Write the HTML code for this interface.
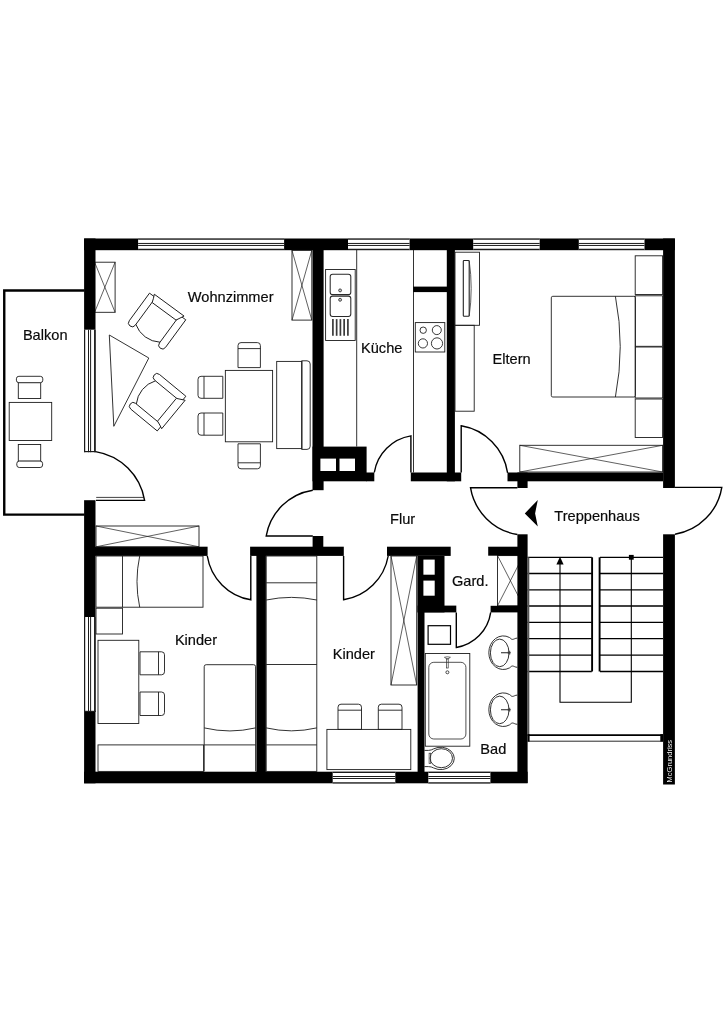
<!DOCTYPE html>
<html lang="de">
<head>
<meta charset="utf-8">
<title>Grundriss</title>
<style>
html,body{margin:0;padding:0;background:#fff;}
body{width:724px;height:1024px;overflow:hidden;}
svg{display:block;will-change:transform;}
text{font-family:"Liberation Sans",sans-serif;fill:#0a0a0a;stroke:#0a0a0a;stroke-width:0.18px;}
</style>
</head>
<body>
<svg width="724" height="1024" viewBox="0 0 724 1024">
<rect x="0" y="0" width="724" height="1024" fill="#fff"/>
<path d="M84.5 290.55L4.25 290.55L4.25 514.6L84.5 514.6" stroke="#000" stroke-width="2.4" fill="none"/>
<rect x="497.5" y="555.6" width="25.8" height="50.2" stroke="#1c1c1c" stroke-width="0.9" fill="none"/>
<path d="M497.5 555.6L523.3 605.8M523.3 555.6L497.5 605.8" stroke="#1c1c1c" stroke-width="0.7" fill="none"/>
<rect x="94.6" y="262.2" width="20.5" height="50.1" stroke="#1c1c1c" stroke-width="0.9" fill="none"/>
<path d="M94.6 262.2L115.1 312.3M115.1 262.2L94.6 312.3" stroke="#1c1c1c" stroke-width="0.7" fill="none"/>
<rect x="84.1" y="238.5" width="590.8" height="11.7" fill="#000"/>
<rect x="84.1" y="238.5" width="11.4" height="213.5" fill="#000"/>
<rect x="84.1" y="500.2" width="11.4" height="283.1" fill="#000"/>
<rect x="84.1" y="771.7" width="443.5" height="11.6" fill="#000"/>
<rect x="663.1" y="238.5" width="11.8" height="249.5" fill="#000"/>
<rect x="663.1" y="534.3" width="11.8" height="250.2" fill="#000"/>
<rect x="138.1" y="238.5" width="146.0" height="11.5" fill="#fff"/>
<line x1="138.1" y1="239.05" x2="284.1" y2="239.05" stroke="#1a1a1a" stroke-width="1.25"/>
<line x1="138.1" y1="243.45" x2="284.1" y2="243.45" stroke="#1a1a1a" stroke-width="1.0"/>
<line x1="138.1" y1="245.45" x2="284.1" y2="245.45" stroke="#1a1a1a" stroke-width="1.0"/>
<line x1="138.1" y1="249.45" x2="284.1" y2="249.45" stroke="#1a1a1a" stroke-width="1.25"/>
<rect x="348" y="238.5" width="61.6" height="11.5" fill="#fff"/>
<line x1="348" y1="239.05" x2="409.6" y2="239.05" stroke="#1a1a1a" stroke-width="1.25"/>
<line x1="348" y1="243.45" x2="409.6" y2="243.45" stroke="#1a1a1a" stroke-width="1.0"/>
<line x1="348" y1="245.45" x2="409.6" y2="245.45" stroke="#1a1a1a" stroke-width="1.0"/>
<line x1="348" y1="249.45" x2="409.6" y2="249.45" stroke="#1a1a1a" stroke-width="1.25"/>
<rect x="473.2" y="238.5" width="66.5" height="11.5" fill="#fff"/>
<line x1="473.2" y1="239.05" x2="539.7" y2="239.05" stroke="#1a1a1a" stroke-width="1.25"/>
<line x1="473.2" y1="243.45" x2="539.7" y2="243.45" stroke="#1a1a1a" stroke-width="1.0"/>
<line x1="473.2" y1="245.45" x2="539.7" y2="245.45" stroke="#1a1a1a" stroke-width="1.0"/>
<line x1="473.2" y1="249.45" x2="539.7" y2="249.45" stroke="#1a1a1a" stroke-width="1.25"/>
<rect x="578.8" y="238.5" width="65.7" height="11.5" fill="#fff"/>
<line x1="578.8" y1="239.05" x2="644.5" y2="239.05" stroke="#1a1a1a" stroke-width="1.25"/>
<line x1="578.8" y1="243.45" x2="644.5" y2="243.45" stroke="#1a1a1a" stroke-width="1.0"/>
<line x1="578.8" y1="245.45" x2="644.5" y2="245.45" stroke="#1a1a1a" stroke-width="1.0"/>
<line x1="578.8" y1="249.45" x2="644.5" y2="249.45" stroke="#1a1a1a" stroke-width="1.25"/>
<rect x="332.7" y="771.7" width="62.6" height="11.6" fill="#fff"/>
<line x1="332.7" y1="772.3" x2="395.3" y2="772.3" stroke="#1a1a1a" stroke-width="1.25"/>
<line x1="332.7" y1="776.5" x2="395.3" y2="776.5" stroke="#1a1a1a" stroke-width="1.0"/>
<line x1="332.7" y1="778.5" x2="395.3" y2="778.5" stroke="#1a1a1a" stroke-width="1.0"/>
<line x1="332.7" y1="782.75" x2="395.3" y2="782.75" stroke="#1a1a1a" stroke-width="1.25"/>
<rect x="428.3" y="771.7" width="62.1" height="11.6" fill="#fff"/>
<line x1="428.3" y1="772.3" x2="490.4" y2="772.3" stroke="#1a1a1a" stroke-width="1.25"/>
<line x1="428.3" y1="776.5" x2="490.4" y2="776.5" stroke="#1a1a1a" stroke-width="1.0"/>
<line x1="428.3" y1="778.5" x2="490.4" y2="778.5" stroke="#1a1a1a" stroke-width="1.0"/>
<line x1="428.3" y1="782.75" x2="490.4" y2="782.75" stroke="#1a1a1a" stroke-width="1.25"/>
<rect x="84.1" y="329.7" width="11.5" height="122.5" fill="#fff"/>
<line x1="84.6" y1="329.7" x2="84.6" y2="452.2" stroke="#1a1a1a" stroke-width="1.25"/>
<line x1="88.5" y1="329.7" x2="88.5" y2="452.2" stroke="#1a1a1a" stroke-width="1.0"/>
<line x1="90.6" y1="329.7" x2="90.6" y2="452.2" stroke="#1a1a1a" stroke-width="1.0"/>
<line x1="94.9" y1="329.7" x2="94.9" y2="452.2" stroke="#1a1a1a" stroke-width="1.7"/>
<line x1="84.1" y1="451.59999999999997" x2="95.6" y2="451.59999999999997" stroke="#1a1a1a" stroke-width="1.2"/>
<rect x="84.1" y="617" width="11.5" height="95" fill="#fff"/>
<line x1="84.6" y1="617" x2="84.6" y2="712" stroke="#1a1a1a" stroke-width="1.25"/>
<line x1="88.5" y1="617" x2="88.5" y2="712" stroke="#1a1a1a" stroke-width="1.0"/>
<line x1="90.6" y1="617" x2="90.6" y2="712" stroke="#1a1a1a" stroke-width="1.0"/>
<line x1="94.9" y1="617" x2="94.9" y2="712" stroke="#1a1a1a" stroke-width="1.7"/>
<line x1="84.1" y1="711.4" x2="95.6" y2="711.4" stroke="#1a1a1a" stroke-width="1.2"/>
<rect x="312.5" y="250" width="11.1" height="240.2" fill="#000"/>
<rect x="312.5" y="446.6" width="54.1" height="34.7" fill="#000"/>
<rect x="320.4" y="458.6" width="15.6" height="12.4" fill="#fff"/>
<rect x="339.5" y="458.6" width="15.5" height="12.4" fill="#fff"/>
<rect x="366" y="472.5" width="8.3" height="8.8" fill="#000"/>
<rect x="410.8" y="472.5" width="50.4" height="8.8" fill="#000"/>
<rect x="446.8" y="250" width="8.1" height="231.3" fill="#000"/>
<rect x="507.5" y="472.5" width="155.5" height="8.8" fill="#000"/>
<rect x="517.4" y="472.5" width="10.2" height="15.5" fill="#000"/>
<rect x="517.4" y="534.3" width="10.2" height="248.7" fill="#000"/>
<rect x="95" y="546.7" width="112.6" height="9.2" fill="#000"/>
<rect x="250.1" y="546.7" width="93.7" height="9.2" fill="#000"/>
<rect x="312.6" y="536" width="10.7" height="11" fill="#000"/>
<rect x="256.4" y="547" width="9.5" height="225" fill="#000"/>
<rect x="387" y="546.7" width="63.7" height="9.2" fill="#000"/>
<rect x="417.6" y="556" width="6.9" height="216" fill="#000"/>
<rect x="417.6" y="556" width="26.9" height="56.4" fill="#000"/>
<rect x="423.4" y="559.6" width="11.3" height="15.1" fill="#fff"/>
<rect x="423.4" y="580.6" width="11.3" height="15.1" fill="#fff"/>
<rect x="417.6" y="605.6" width="38.7" height="6.8" fill="#000"/>
<rect x="488.2" y="546.7" width="29.8" height="9.0" fill="#000"/>
<rect x="490.6" y="605.8" width="27.4" height="6.6" fill="#000"/>
<path d="M95.5 451.6A59.3 59.3 0 0 1 144.6 500.4L96 500.4" stroke="#000" stroke-width="1.4" fill="none"/>
<line x1="96.2" y1="497.4" x2="144" y2="497.4" stroke="#111" stroke-width="0.8"/>
<path d="M312.8 490.2A56.0 56.0 0 0 0 266.2 536L312.8 536" stroke="#000" stroke-width="1.4" fill="none"/>
<path d="M374.3 472.5A44.3 44.3 0 0 1 410.9 435.9L410.9 472.5" stroke="#000" stroke-width="1.4" fill="none"/>
<path d="M461.2 472.5L461.2 425.8A56.4 56.4 0 0 1 507.6 472.8" stroke="#000" stroke-width="1.4" fill="none"/>
<path d="M517.4 487.7L470.5 487.7A56.9 56.9 0 0 0 517.4 534.5" stroke="#000" stroke-width="1.4" fill="none"/>
<path d="M675 487.4L721.8 487.4A56.9 56.9 0 0 1 675 534.3" stroke="#000" stroke-width="1.4" fill="none"/>
<path d="M250.8 556L250.8 599.8A52.8 52.8 0 0 1 207.3 556" stroke="#000" stroke-width="1.4" fill="none"/>
<path d="M343.6 556L343.6 599.8A53.7 53.7 0 0 0 388.2 556" stroke="#000" stroke-width="1.4" fill="none"/>
<path d="M456.3 612.4L456.3 647.5A41.6 41.6 0 0 0 490.7 612.4" stroke="#000" stroke-width="1.4" fill="none"/>
<rect x="292" y="250.4" width="19.8" height="69.7" stroke="#1c1c1c" stroke-width="0.9" fill="none"/>
<path d="M292 250.4L311.8 320.1M311.8 250.4L292 320.1" stroke="#1c1c1c" stroke-width="0.7" fill="none"/>
<rect x="96" y="526" width="103" height="20.8" stroke="#1c1c1c" stroke-width="0.9" fill="none"/>
<path d="M96 526L199 546.8M199 526L96 546.8" stroke="#1c1c1c" stroke-width="0.7" fill="none"/>
<path d="M109.3 335L148.8 358L113.8 426.3Z" stroke="#1c1c1c" stroke-width="0.9" fill="none"/>
<g transform="translate(156.4 321.8) rotate(36.3)" stroke="#1c1c1c" stroke-width="0.9" fill="none">
<path d="M-22.5 -19L-15 -19L-15 15.25A3.75 3.75 0 0 1 -22.5 15.25Z"/>
<path d="M22.5 -19L15 -19L15 15.25A3.75 3.75 0 0 0 22.5 15.25Z"/>
<path d="M-18 -21L18.9 -21L14.8 -13L-14.8 -13Q-16.2 -17.5 -18 -21Z" fill="#fff"/>
<path d="M-15 14.3A27.25 27.25 0 0 0 15 14.3"/>
</g>
<g transform="translate(156.9 401.5) rotate(129.5) scale(-1 1)" stroke="#1c1c1c" stroke-width="0.9" fill="none">
<path d="M-22.5 -19L-15 -19L-15 15.25A3.75 3.75 0 0 1 -22.5 15.25Z"/>
<path d="M22.5 -19L15 -19L15 15.25A3.75 3.75 0 0 0 22.5 15.25Z"/>
<path d="M-18 -21L18.9 -21L14.8 -13L-14.8 -13Q-16.2 -17.5 -18 -21Z" fill="#fff"/>
<path d="M-15 14.3A27.25 27.25 0 0 0 15 14.3"/>
</g>
<rect x="225.35" y="370.4" width="47.25" height="71.4" stroke="#1c1c1c" stroke-width="0.9" fill="none"/>
<path d="M238 367.6L238 345.6Q238 342.6 241 342.6L257.4 342.6Q260.4 342.6 260.4 345.6L260.4 367.6Z M238 348.6L260.4 348.6" stroke="#1c1c1c" stroke-width="0.9" fill="none"/>
<path d="M238 443.8L238 465.8Q238 468.8 241 468.8L257.4 468.8Q260.4 468.8 260.4 465.8L260.4 443.8Z M238 462.8L260.4 462.8" stroke="#1c1c1c" stroke-width="0.9" fill="none"/>
<path d="M222.8 376.3L201 376.3Q198 376.3 198 379.3L198 395.3Q198 398.3 201 398.3L222.8 398.3Z M204 376.3L204 398.3" stroke="#1c1c1c" stroke-width="0.9" fill="none"/>
<path d="M222.8 413L201 413Q198 413 198 416L198 432.2Q198 435.2 201 435.2L222.8 435.2Z M204 413L204 435.2" stroke="#1c1c1c" stroke-width="0.9" fill="none"/>
<rect x="276.7" y="361.4" width="25.3" height="87.2" stroke="#1c1c1c" stroke-width="0.9" fill="none"/>
<path d="M301.6 360.8L307 360.8Q310.2 360.8 310.2 364L310.2 446.2Q310.2 449.4 307 449.4L301.6 449.4Z" stroke="#1c1c1c" stroke-width="0.9" fill="none"/>
<rect x="9.2" y="402.4" width="42.5" height="38.1" stroke="#1c1c1c" stroke-width="0.9" fill="none"/>
<rect x="18.3" y="382.6" width="22.4" height="15.9" stroke="#1c1c1c" stroke-width="0.9" fill="none"/>
<rect x="16.4" y="376.3" width="26.4" height="6.4" rx="2.5" stroke="#1c1c1c" stroke-width="0.9" fill="#fff"/>
<rect x="18.3" y="444.5" width="22.4" height="16.7" stroke="#1c1c1c" stroke-width="0.9" fill="none"/>
<rect x="16.8" y="461.1" width="25.8" height="6.4" rx="2.5" stroke="#1c1c1c" stroke-width="0.9" fill="#fff"/>
<line x1="356.7" y1="250" x2="356.7" y2="446.6" stroke="#1c1c1c" stroke-width="0.9" fill="none"/>
<rect x="325.6" y="269.5" width="29.6" height="71.0" stroke="#1c1c1c" stroke-width="0.9" fill="none"/>
<rect x="330.2" y="274.2" width="20.6" height="20.4" rx="2.4" stroke="#2a2a2a" stroke-width="1.05" fill="none"/>
<rect x="330.2" y="296.1" width="20.6" height="20.3" rx="2.4" stroke="#2a2a2a" stroke-width="1.05" fill="none"/>
<circle cx="340.1" cy="290.4" r="1.45" stroke="#333" stroke-width="0.9" fill="#ccc"/>
<circle cx="340.1" cy="299.8" r="1.45" stroke="#333" stroke-width="0.9" fill="#ccc"/>
<line x1="332.9" y1="319.1" x2="332.9" y2="335.8" stroke="#3a3a3a" stroke-width="1.7"/>
<line x1="336.65" y1="319.1" x2="336.65" y2="335.8" stroke="#3a3a3a" stroke-width="1.7"/>
<line x1="340.4" y1="319.1" x2="340.4" y2="335.8" stroke="#3a3a3a" stroke-width="1.7"/>
<line x1="344.15" y1="319.1" x2="344.15" y2="335.8" stroke="#3a3a3a" stroke-width="1.7"/>
<line x1="347.9" y1="319.1" x2="347.9" y2="335.8" stroke="#3a3a3a" stroke-width="1.7"/>
<line x1="413.5" y1="250" x2="413.5" y2="472.5" stroke="#1c1c1c" stroke-width="0.9" fill="none"/>
<rect x="413.2" y="286.6" width="34.3" height="5.5" fill="#000"/>
<rect x="415.3" y="322.6" width="29.5" height="29.4" stroke="#1c1c1c" stroke-width="0.9" fill="none"/>
<circle cx="423.2" cy="330.2" r="3.2" stroke="#222" stroke-width="0.9" fill="none"/>
<circle cx="436.8" cy="330.1" r="4.5" stroke="#222" stroke-width="0.9" fill="none"/>
<circle cx="422.9" cy="343.4" r="4.6" stroke="#222" stroke-width="0.9" fill="none"/>
<circle cx="437" cy="343.4" r="5.6" stroke="#222" stroke-width="0.9" fill="none"/>
<rect x="455" y="252.2" width="24.5" height="73.1" stroke="#1c1c1c" stroke-width="0.9" fill="none"/>
<rect x="463.3" y="260.5" width="5.9" height="55.7" rx="0.8" stroke="#222" stroke-width="1.1" fill="none"/>
<path d="M469.2 260.8Q473.2 288.3 469.2 316" stroke="#333" stroke-width="0.8" fill="none"/>
<rect x="455" y="325.3" width="19.2" height="85.9" stroke="#1c1c1c" stroke-width="0.9" fill="none"/>
<rect x="519.8" y="445.3" width="142.8" height="26.7" stroke="#1c1c1c" stroke-width="0.9" fill="none"/>
<path d="M519.8 445.3L662.6 472M662.6 445.3L519.8 472" stroke="#1c1c1c" stroke-width="0.7" fill="none"/>
<rect x="551.3" y="296.3" width="84.1" height="100.7" rx="1.5" stroke="#1c1c1c" stroke-width="0.9" fill="none"/>
<path d="M615.4 296.3A266.5 266.5 0 0 1 615.4 397" stroke="#1c1c1c" stroke-width="0.9" fill="none"/>
<rect x="635.2" y="255.8" width="27.4" height="38.7" stroke="#1c1c1c" stroke-width="0.9" fill="none"/>
<rect x="635.2" y="295.8" width="27.4" height="50.5" stroke="#1c1c1c" stroke-width="0.9" fill="none"/>
<rect x="635.2" y="347" width="27.4" height="51" stroke="#1c1c1c" stroke-width="0.9" fill="none"/>
<rect x="635.2" y="399" width="27.4" height="38.5" stroke="#1c1c1c" stroke-width="0.9" fill="none"/>
<rect x="96" y="556" width="107" height="51.2" stroke="#1c1c1c" stroke-width="0.9" fill="none"/>
<line x1="122.5" y1="556" x2="122.5" y2="607.2" stroke="#1c1c1c" stroke-width="0.9" fill="none"/>
<path d="M139.7 556A122.7 122.7 0 0 0 139.7 607.2" stroke="#1c1c1c" stroke-width="0.9" fill="none"/>
<rect x="96" y="608.2" width="26.5" height="25.8" stroke="#1c1c1c" stroke-width="0.9" fill="none"/>
<rect x="98" y="640.3" width="40.8" height="83.2" stroke="#1c1c1c" stroke-width="0.9" fill="none"/>
<path d="M140 651.8L161.5 651.8Q164.5 651.8 164.5 654.8L164.5 671.8Q164.5 674.8 161.5 674.8L140 674.8Z M158.5 651.8L158.5 674.8" stroke="#1c1c1c" stroke-width="0.9" fill="none"/>
<path d="M140 692L161.5 692Q164.5 692 164.5 695L164.5 712.5Q164.5 715.5 161.5 715.5L140 715.5Z M158.5 692L158.5 715.5" stroke="#1c1c1c" stroke-width="0.9" fill="none"/>
<rect x="98" y="744.9" width="105.6" height="26.5" stroke="#1c1c1c" stroke-width="0.9" fill="none"/>
<path d="M204.2 771.4L204.2 666.7Q204.2 664.7 206.2 664.7L253.6 664.7Q255.6 664.7 255.6 666.7L255.6 771.4" stroke="#1c1c1c" stroke-width="0.9" fill="none"/>
<line x1="204.2" y1="744.9" x2="255.6" y2="744.9" stroke="#1c1c1c" stroke-width="0.9" fill="none"/>
<path d="M204.2 727.9A111.6 111.6 0 0 0 255.6 727.9" stroke="#1c1c1c" stroke-width="0.9" fill="none"/>
<rect x="266.2" y="556" width="50.6" height="215.4" stroke="#1c1c1c" stroke-width="0.9" fill="none"/>
<line x1="266.2" y1="582.8" x2="316.8" y2="582.8" stroke="#1c1c1c" stroke-width="0.9" fill="none"/>
<path d="M266.2 600A124.4 124.4 0 0 1 316.8 600" stroke="#1c1c1c" stroke-width="0.9" fill="none"/>
<line x1="266.2" y1="664.5" x2="316.8" y2="664.5" stroke="#1c1c1c" stroke-width="0.9" fill="none"/>
<path d="M266.2 727.9A111.6 111.6 0 0 0 316.8 727.9" stroke="#1c1c1c" stroke-width="0.9" fill="none"/>
<line x1="266.2" y1="744.9" x2="316.8" y2="744.9" stroke="#1c1c1c" stroke-width="0.9" fill="none"/>
<rect x="391" y="556" width="25.7" height="129" stroke="#1c1c1c" stroke-width="0.9" fill="none"/>
<path d="M391 556L416.7 685M416.7 556L391 685" stroke="#1c1c1c" stroke-width="0.7" fill="none"/>
<rect x="326.9" y="729.4" width="83.9" height="40.2" stroke="#1c1c1c" stroke-width="0.9" fill="none"/>
<path d="M338 729.4L338 707.2Q338 704.2 341 704.2L358.5 704.2Q361.5 704.2 361.5 707.2L361.5 729.4Z M338 710.2L361.5 710.2" stroke="#1c1c1c" stroke-width="0.9" fill="none"/>
<path d="M378.3 729.4L378.3 707.2Q378.3 704.2 381.3 704.2L399 704.2Q402 704.2 402 707.2L402 729.4Z M378.3 710.2L402 710.2" stroke="#1c1c1c" stroke-width="0.9" fill="none"/>
<rect x="428.1" y="625.7" width="22.4" height="18.6" stroke="#000" stroke-width="1.2" fill="none"/>
<rect x="425.3" y="653.5" width="44.5" height="92.7" stroke="#1c1c1c" stroke-width="0.9" fill="none"/>
<rect x="428.8" y="662.3" width="37.1" height="76.7" rx="5" stroke="#333" stroke-width="0.85" fill="none"/>
<path d="M444.4 657.3Q447.4 656.2 450.4 657.3L447.9 659L446.9 659Z" stroke="#333" stroke-width="0.7" fill="none"/>
<rect x="446.6" y="658.8" width="1.6" height="9.2" stroke="#333" stroke-width="0.7" fill="none"/>
<circle cx="447.4" cy="672.3" r="1.5" stroke="#333" stroke-width="0.9" fill="none"/>
<g transform="translate(0 652.7)" stroke="#1c1c1c" stroke-width="0.9" fill="none">
<path d="M517.4 -14.6C515 -14.6 514 -13.3 512.5 -13.3C511.2 -13.3 510.6 -14.6 509.5 -15.2A14.5 16.8 0 1 0 509.5 15.2C510.6 14.6 511.2 13.3 512.5 13.3C514 13.3 515 14.6 517.4 14.6"/>
<ellipse cx="499.7" cy="0.2" rx="9.3" ry="13.8"/>
<path d="M501 0L510.7 0" stroke="#444" stroke-width="1.2"/>
<path d="M509.7 -1.9L509.7 1.9M508.3 -1.2L508.3 1.2" stroke="#333" stroke-width="0.9"/>
</g>
<g transform="translate(0 709.7)" stroke="#1c1c1c" stroke-width="0.9" fill="none">
<path d="M517.4 -14.6C515 -14.6 514 -13.3 512.5 -13.3C511.2 -13.3 510.6 -14.6 509.5 -15.2A14.5 16.8 0 1 0 509.5 15.2C510.6 14.6 511.2 13.3 512.5 13.3C514 13.3 515 14.6 517.4 14.6"/>
<ellipse cx="499.7" cy="0.2" rx="9.3" ry="13.8"/>
<path d="M501 0L510.7 0" stroke="#444" stroke-width="1.2"/>
<path d="M509.7 -1.9L509.7 1.9M508.3 -1.2L508.3 1.2" stroke="#333" stroke-width="0.9"/>
</g>
<path d="M424.4 750.4L428.5 750.4Q431.5 750.2 433.5 748.9A13.6 11.2 0 1 1 433.5 767.9Q431.5 766.7 428.5 766.6L424.4 766.6" stroke="#1c1c1c" stroke-width="0.9" fill="none"/>
<ellipse cx="441.3" cy="758.2" rx="11.2" ry="9.5" stroke="#1c1c1c" stroke-width="0.9" fill="none"/>
<rect x="429.1" y="753.2" width="1.6" height="10.2" stroke="#333" stroke-width="0.7" fill="none"/>
<line x1="527.6" y1="557.3" x2="591.8" y2="557.3" stroke="#000" stroke-width="1.3" fill="none"/>
<line x1="600" y1="557.3" x2="663" y2="557.3" stroke="#000" stroke-width="1.3" fill="none"/>
<line x1="527.6" y1="573.5" x2="591.8" y2="573.5" stroke="#000" stroke-width="1.3" fill="none"/>
<line x1="600" y1="573.5" x2="663" y2="573.5" stroke="#000" stroke-width="1.3" fill="none"/>
<line x1="527.6" y1="589.8" x2="591.8" y2="589.8" stroke="#000" stroke-width="1.3" fill="none"/>
<line x1="600" y1="589.8" x2="663" y2="589.8" stroke="#000" stroke-width="1.3" fill="none"/>
<line x1="527.6" y1="606" x2="591.8" y2="606" stroke="#000" stroke-width="1.3" fill="none"/>
<line x1="600" y1="606" x2="663" y2="606" stroke="#000" stroke-width="1.3" fill="none"/>
<line x1="527.6" y1="622.3" x2="591.8" y2="622.3" stroke="#000" stroke-width="1.3" fill="none"/>
<line x1="600" y1="622.3" x2="663" y2="622.3" stroke="#000" stroke-width="1.3" fill="none"/>
<line x1="527.6" y1="638.6" x2="591.8" y2="638.6" stroke="#000" stroke-width="1.3" fill="none"/>
<line x1="600" y1="638.6" x2="663" y2="638.6" stroke="#000" stroke-width="1.3" fill="none"/>
<line x1="527.6" y1="655.2" x2="591.8" y2="655.2" stroke="#000" stroke-width="1.3" fill="none"/>
<line x1="600" y1="655.2" x2="663" y2="655.2" stroke="#000" stroke-width="1.3" fill="none"/>
<line x1="527.6" y1="671.5" x2="591.8" y2="671.5" stroke="#000" stroke-width="1.3" fill="none"/>
<line x1="600" y1="671.5" x2="663" y2="671.5" stroke="#000" stroke-width="1.3" fill="none"/>
<line x1="528.5" y1="557.3" x2="528.5" y2="735" stroke="#555" stroke-width="1.6"/>
<line x1="592.1" y1="557.3" x2="592.1" y2="671.5" stroke="#000" stroke-width="1.9"/>
<line x1="599.6" y1="557.3" x2="599.6" y2="671.5" stroke="#000" stroke-width="1.9"/>
<path d="M560 563L560 702.3L631.3 702.3L631.3 557.3" stroke="#000" stroke-width="1.1" fill="none"/>
<path d="M560 556.8L563.6 564.6L556.4 564.6Z" fill="#000"/>
<rect x="628.9" y="554.9" width="4.8" height="4.8" fill="#000"/>
<line x1="527.6" y1="735.1" x2="663" y2="735.1" stroke="#000" stroke-width="1.9"/>
<line x1="527.6" y1="741.2" x2="663" y2="741.2" stroke="#111" stroke-width="0.9"/>
<rect x="660.3" y="734.2" width="2.9" height="7.4" fill="#000"/>
<rect x="527.6" y="734.2" width="2.0" height="7.4" fill="#000"/>
<path d="M524.8 513.4L537.8 499.9L535.1 513.4L537.8 526.6Z" fill="#000"/>
<text x="22.9" y="340" font-size="14.6" >Balkon</text>
<text x="187.8" y="302.4" font-size="14.6" >Wohnzimmer</text>
<text x="361" y="352.5" font-size="14.6" >Küche</text>
<text x="492.6" y="363.8" font-size="14.6" >Eltern</text>
<text x="390" y="523.5" font-size="14.6" >Flur</text>
<text x="554.3" y="520.5" font-size="14.6" >Treppenhaus</text>
<text x="174.9" y="644.8" font-size="14.6" >Kinder</text>
<text x="332.7" y="658.5" font-size="14.6" >Kinder</text>
<text x="452" y="586" font-size="14.6" >Gard.</text>
<text x="480.3" y="753.7" font-size="14.6" >Bad</text>
<text transform="translate(672.1 782.4) rotate(-90)" font-size="7.5" style="fill:#eee;stroke:none">McGrundriss</text>
</svg>
</body>
</html>
